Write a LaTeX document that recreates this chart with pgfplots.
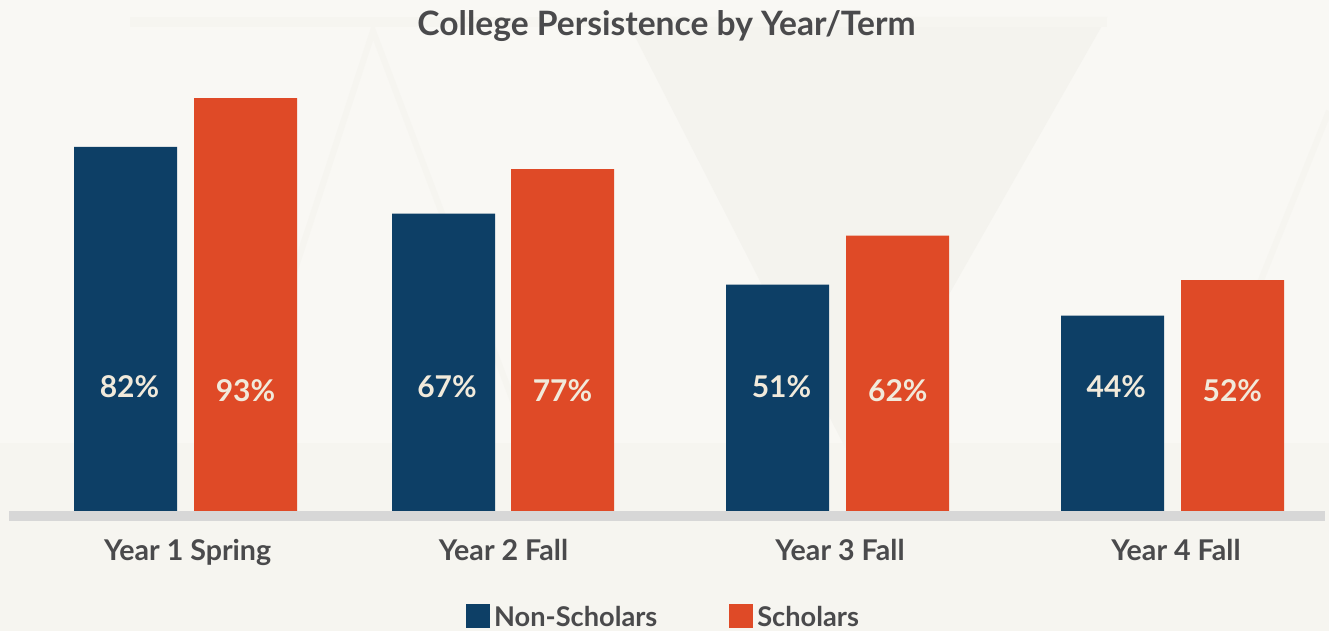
\documentclass[border=0pt]{standalone}
\usepackage{pgfplots}
\pgfplotsset{compat=1.18}
\usepackage{fontspec}
\setmainfont{Lato}
\definecolor{navy}{HTML}{0D3F66}
\definecolor{orng}{HTML}{DF4A27}
\definecolor{bg}{HTML}{F9F8F4}
\definecolor{bgd}{HTML}{F4F3EE}
\definecolor{txt}{HTML}{4A4A4C}
\definecolor{cream}{HTML}{F1EADB}
\definecolor{basegray}{HTML}{D7D7D7}
\begin{document}
\begin{tikzpicture}
\useasboundingbox (0,0) rectangle (664.5pt,315.5pt);
\fill[bg] (0,0) rectangle (664.5pt,315.5pt);
\fill[bgd!60!bg] (0,0) rectangle (664.5pt,94pt);
\fill[bgd] (312.5pt,307pt) -- (553.5pt,307pt) -- (426.5pt,84pt) -- cycle;
\fill[bgd!60!bg] (65pt,307pt) rectangle (553.5pt,302pt);
\draw[bgd!70!bg, line width=3pt] (90pt,5pt) -- (186.5pt,300pt) -- (300pt,0pt);
\draw[bgd!70!bg, line width=3pt] (560pt,0pt) -- (664.5pt,260pt);
\begin{axis}[
  scale only axis,
  width=664.5pt, height=315.5pt,
  xmin=0, xmax=1329,
  ymin=-27.027, ymax=115.09,
  clip=false,
  axis line style={draw=none},
  major tick length=0pt,
  ytick=\empty,
  xtick={187.6,503.5,840,1176},
  xticklabels={Year 1 Spring, Year 2 Fall, Year 3 Fall, Year 4 Fall},
  xticklabel style={anchor=base, yshift=35pt, text=txt, font=\bfseries\fontsize{14.3}{16}\selectfont},
  title={College Persistence by Year/Term},
  every axis title/.style={at={(axis description cs:0.5015,0.9445)}, anchor=base, text=txt, font=\bfseries\fontsize{16.8}{19}\selectfont},
  legend columns=2,
  legend style={at={(axis description cs:0.5000,0.0200)}, anchor=center, draw=none, fill=none,
    text=txt, font=\bfseries\fontsize{13.6}{15}\selectfont,
    nodes={inner xsep=2pt},
    /tikz/every even column/.append style={column sep=34pt}},
]
\addplot[ybar, bar width=103, bar shift=0pt, fill=navy, draw=none,
  legend image code/.code={\fill[navy] (0pt,-5pt) rectangle (12pt,7pt);}]
  coordinates {(125.5,82) (443.5,67) (777.5,51) (1112.5,44)};
\addlegendentry{Non-Scholars}
\addplot[ybar, bar width=103, bar shift=0pt, fill=orng, draw=none,
  legend image code/.code={\fill[orng] (0pt,-5pt) rectangle (12pt,7pt);}]
  coordinates {(245.5,93) (562.5,77) (897.5,62) (1232.5,52)};
\addlegendentry{Scholars}
\addplot[draw=none, mark=none, forget plot, nodes near coords, point meta=explicit symbolic,
  every node near coord/.append style={anchor=base, text=cream, font=\bfseries\fontsize{15}{17}\selectfont}]
  coordinates {(129.5,25.45)[82\%] (447,25.45)[67\%] (781.5,25.45)[51\%] (1116.3,25.45)[44\%]};
\addplot[draw=none, mark=none, forget plot, nodes near coords, point meta=explicit symbolic,
  every node near coord/.append style={anchor=base, text=cream, font=\bfseries\fontsize{15}{17}\selectfont}]
  coordinates {(245.5,24.55)[93\%] (562.5,24.55)[77\%] (897.8,24.55)[62\%] (1232.3,24.55)[52\%]};
\fill[basegray] (axis cs:9,0) rectangle (axis cs:1325,-2.25);
\end{axis}
\end{tikzpicture}
\end{document}
